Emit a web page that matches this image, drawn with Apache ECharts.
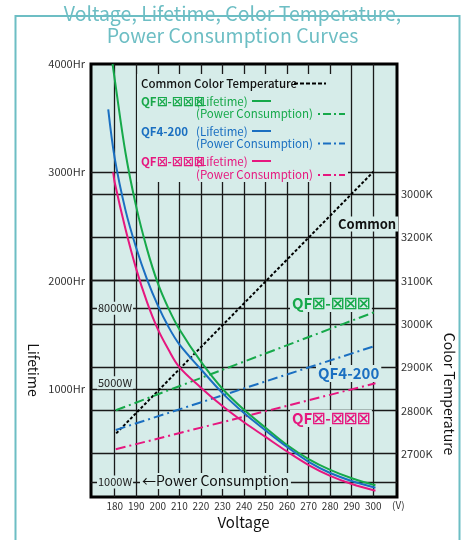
<!DOCTYPE html>
<html>
<head>
<meta charset="utf-8">
<script src="https://cdn.jsdelivr.net/npm/echarts@6/dist/echarts.min.js"></script>
<style>
html,body{margin:0;padding:0;background:#fff;}
#chart{width:465px;height:540px;}
</style>
</head>
<body>
<div id="chart"></div>
<script>
// ---- data ----
const voltageTicks = [180,190,200,210,220,230,240,250,260,270,280,290,300];
const lifetimeTicks = [1000,2000,3000,4000];
const lifetimeTickLabels = ['1000Hr','2000Hr','3000Hr','4000Hr'];
const tempTicks = [2700,2800,2900,3000,3100,3200,3300];
const tempTickLabels = ['2700K','2800K','2900K','3000K','3100K','3200K','3000K'];
const powerTicks = [1000,5000,8000];
const powerTickLabels = ['1000W','5000W','8000W'];
const powerGridTicks = [1000,8000];

// lifetime (Hr) vs voltage (V)
const greenLifetime = [[179,4000],[180,3860],[185,3180],[190,2680],[195,2290],[200,1975],[205,1740],[210,1550],[220,1250],[230,1000],[240,805],[250,640],[260,480],[270,350],[280,250],[290,173],[301,108]];
const blueLifetime = [[177,3580],[180,3130],[185,2650],[190,2300],[195,2010],[200,1770],[205,1570],[210,1410],[220,1180],[230,960],[240,775],[250,615],[260,462],[270,325],[280,222],[290,148],[301,85]];
const pinkLifetime = [[179.3,3000],[180,2905],[185,2475],[190,2105],[195,1800],[200,1550],[205,1360],[210,1200],[220,1010],[230,840],[240,690],[250,555],[260,420],[270,295],[280,195],[290,120],[301,58]];
// power consumption (W) vs voltage
const greenPower = [[180.5,3889],[301,7857]];
const bluePower = [[180.5,3097],[301,6485]];
const pinkPower = [[180.5,2320],[301,4976]];
// common colour temperature (K) vs voltage
const commonTemp = [[180.7,2747],[300,3351]];

const GREEN = '#16a94a', BLUE = '#1a6fc1', PINK = '#e6177f', TEAL = '#6dbec4', BG = '#d6ece9';
const FONT = '"Noto Sans CJK JP", "Noto Sans", sans-serif';
const DASHDOT = [10,4,2,4];

const chart = echarts.init(document.getElementById('chart'), null, {renderer:'canvas'});

function txt(text, x, y, size, color, weight, extra) {
  return {
    type: 'text', z: 20,
    style: Object.assign({
      text: text, x: x, y: y, fill: color,
      font: (weight || 'normal') + ' ' + size + 'px ' + FONT,
      align: 'left', verticalAlign: 'middle'
    }, extra || {})
  };
}
function seg(x1, y1, x2, y2, color, dash) {
  return {type:'line', z: 20, shape:{x1:x1,y1:y1,x2:x2,y2:y2},
    style:{stroke:color, lineWidth:2, lineDash: dash || null}};
}
const box = {x:137, y:74, w:211, h:108};
const lab = {backgroundColor: BG, padding:[1,2]};
const LEG = 11.5;

const option = {
  animation: false,
  backgroundColor: '#fff',
  title: {
    text: 'Voltage, Lifetime, Color Temperature,\nPower Consumption Curves',
    left: 'center', top: -2,
    textStyle: {color: TEAL, fontSize: 19.5, fontWeight: 'normal', fontFamily: FONT, lineHeight: 22}
  },
  grid: {left: 91, right: 68, top: 64, bottom: 43, show: true, backgroundColor: BG, borderColor: '#000', borderWidth: 3},
  xAxis: {
    type: 'value', min: 169, max: 311,
    axisLine: {show: false},
    axisTick: {show: false, customValues: voltageTicks},
    axisLabel: {customValues: voltageTicks, color: '#333', fontSize: 10, fontFamily: FONT, margin: 4},
    splitLine: {show: true, lineStyle: {color: '#1a1a1a', width: 1.3}}
  },
  yAxis: [
    {
      type: 'value', position: 'left', min: 0, max: 4000,
      axisLine: {show: false},
      axisTick: {show: false, customValues: [1000,2000,3000]},
      axisLabel: {customValues: lifetimeTicks, color: '#333', fontSize: 11, fontFamily: FONT, margin: 6,
        formatter: v => lifetimeTickLabels[lifetimeTicks.indexOf(v)]},
      splitLine: {show: true, lineStyle: {color: '#1a1a1a', width: 1.3}}
    },
    {
      type: 'value', position: 'right', min: 2600, max: 3600,
      axisLine: {show: false},
      axisTick: {show: false, customValues: tempTicks},
      axisLabel: {customValues: tempTicks, color: '#333', fontSize: 11, fontFamily: FONT, margin: 4,
        formatter: v => tempTickLabels[tempTicks.indexOf(v)]},
      splitLine: {show: true, lineStyle: {color: '#1a1a1a', width: 1.3}}
    },
    {
      type: 'value', position: 'left', min: 400, max: 17825,
      axisLine: {show: false},
      axisTick: {show: false, customValues: powerGridTicks},
      axisLabel: {inside: true, customValues: powerTicks, color: '#222', fontSize: 11, fontFamily: FONT, margin: 6,
        backgroundColor: BG, padding: [1,1],
        formatter: v => powerTickLabels[powerTicks.indexOf(v)]},
      splitLine: {show: true, lineStyle: {color: '#1a1a1a', width: 1.3}}
    }
  ],
  series: [
    {name:'Common Color Temperature', type:'line', yAxisIndex:1, data: commonTemp, showSymbol:false,
      lineStyle:{color:'#000', width:2, type:[3,2]}},
    {name:'QF green Power', type:'line', yAxisIndex:2, data: greenPower, showSymbol:false,
      lineStyle:{color:GREEN, width:2, type:DASHDOT}},
    {name:'QF4-200 Power', type:'line', yAxisIndex:2, data: bluePower, showSymbol:false,
      lineStyle:{color:BLUE, width:2, type:DASHDOT}},
    {name:'QF pink Power', type:'line', yAxisIndex:2, data: pinkPower, showSymbol:false,
      lineStyle:{color:PINK, width:2, type:DASHDOT}},
    {name:'QF green Lifetime', type:'line', yAxisIndex:0, data: greenLifetime, showSymbol:false, smooth:0.35,
      lineStyle:{color:GREEN, width:2}},
    {name:'QF4-200 Lifetime', type:'line', yAxisIndex:0, data: blueLifetime, showSymbol:false, smooth:0.35,
      lineStyle:{color:BLUE, width:2}},
    {name:'QF pink Lifetime', type:'line', yAxisIndex:0, data: pinkLifetime, showSymbol:false, smooth:0.35,
      lineStyle:{color:PINK, width:2}}
  ],
  graphic: [
    // outer teal frame
    {type:'rect', z:100, shape:{x:15.5, y:16, width:444, height:600}, style:{fill:'none', stroke:TEAL, lineWidth:2}},
    // legend block
    {type:'rect', z:15, shape:{x:box.x, y:box.y, width:box.w, height:box.h}, style:{fill:BG}},
    txt('Common Color Temperature', 141, 83.5, LEG, '#111', 500),
    seg(294, 83.5, 326, 83.5, '#000', [4,2]),
    txt('QF\u2612-\u2612\u2612\u2612', 141, 101.5, LEG, GREEN, 'bold'),
    txt('(Lifetime)', 196, 101.5, LEG, GREEN, 'normal'),
    seg(252, 101, 271, 101, GREEN),
    txt('(Power Consumption)', 196, 114, LEG, GREEN, 'normal'),
    seg(318, 114, 345, 114, GREEN, [2,3,8,3]),
    txt('QF4-200', 141, 131.5, LEG, BLUE, 'bold'),
    txt('(Lifetime)', 196, 131.5, LEG, BLUE, 'normal'),
    seg(252, 131, 271, 131, BLUE),
    txt('(Power Consumption)', 196, 143.5, LEG, BLUE, 'normal'),
    seg(318, 143.5, 345, 143.5, BLUE, [2,3,8,3]),
    txt('QF\u2612-\u2612\u2612\u2612', 141, 161.5, LEG, PINK, 'bold'),
    txt('(Lifetime)', 196, 161.5, LEG, PINK, 'normal'),
    seg(252, 161, 271, 161, PINK),
    txt('(Power Consumption)', 196, 175, LEG, PINK, 'normal'),
    seg(318, 175, 345, 175, PINK, [2,3,8,3]),
    // in-plot labels
    txt('Common', 336, 224, 13, '#111', 600, lab),
    txt('QF\u2612-\u2612\u2612\u2612', 290, 303.5, 15, GREEN, 'bold', lab),
    txt('QF4-200', 316, 373.5, 15, BLUE, 'bold', lab),
    txt('QF\u2612-\u2612\u2612\u2612', 290, 418.5, 15, PINK, 'bold', lab),
    txt('\u2190Power Consumption', 140, 481, 14, '#111', 'normal', lab),
    // axis names
    {type:'text', z:20, x:33, y:370, rotation:-Math.PI/2,
      style:{text:'Lifetime', fill:'#111', font:'normal 14px ' + FONT, align:'center', verticalAlign:'middle'}},
    {type:'text', z:20, x:449, y:394, rotation:-Math.PI/2,
      style:{text:'Color Temperature', fill:'#111', font:'normal 14px ' + FONT, align:'center', verticalAlign:'middle'}},
    txt('Voltage', 243.5, 522, 15, '#111', 'normal', {align:'center'}),
    txt('(V)', 392, 505, 10, '#333', 'normal')
  ]
};
chart.setOption(option);
</script>
</body>
</html>
